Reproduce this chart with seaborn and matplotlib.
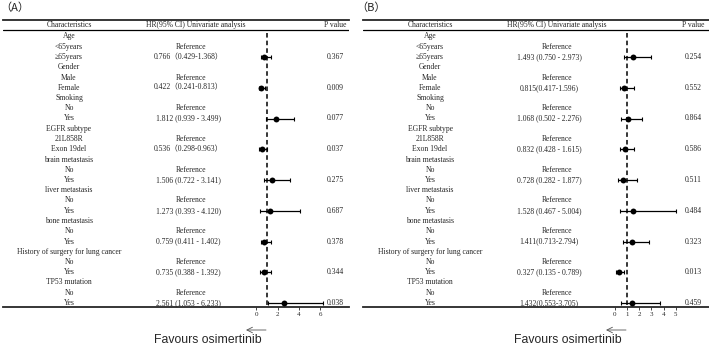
import numpy as np
import pandas as pd
import seaborn as sns
import matplotlib.pyplot as plt

sns.set_style("white")
plt.rcParams['font.family'] = ['Liberation Serif', 'Noto Sans CJK SC', 'DejaVu Sans']

# table content
groups = ["Age", "Gender", "Smoking", "EGFR subtype", "brain metastasis",
          "liver metastasis", "bone metastasis", "History of surgery for lung cancer",
          "TP53 mutation"]
ref_levels = ["<65years", "Male", "No", "21L858R", "No", "No", "No", "No", "No"]
cmp_levels = ["≥65years", "Female", "Yes", "Exon 19del", "Yes", "Yes", "Yes", "Yes", "Yes"]

# (A)
hr_a = [0.766, 0.422, 1.812, 0.536, 1.506, 1.273, 0.759, 0.735, 2.561]
lo_a = [0.429, 0.241, 0.939, 0.298, 0.722, 0.393, 0.411, 0.388, 1.053]
hi_a = [1.368, 0.813, 3.499, 0.963, 3.141, 4.120, 1.402, 1.392, 6.233]
p_a = ["0.367", "0.009", "0.077", "0.037", "0.275", "0.687", "0.378", "0.344", "0.038"]
txt_a = ["0.766（0.429-1.368）", "0.422（0.241-0.813）", "1.812 (0.939 - 3.499)",
         "0.536（0.298-0.963）", "1.506 (0.722 - 3.141)", "1.273 (0.393 - 4.120)",
         "0.759 (0.411 - 1.402)", "0.735 (0.388 - 1.392)", "2.561 (1.053 - 6.233)"]
ticks_a = [0, 2, 4, 6]

# (B)
hr_b = [1.493, 0.815, 1.068, 0.832, 0.728, 1.528, 1.411, 0.327, 1.432]
lo_b = [0.750, 0.417, 0.502, 0.428, 0.282, 0.467, 0.713, 0.135, 0.553]
hi_b = [2.973, 1.596, 2.276, 1.615, 1.877, 5.004, 2.794, 0.789, 3.705]
p_b = ["0.254", "0.552", "0.864", "0.586", "0.511", "0.484", "0.323", "0.013", "0.459"]
txt_b = ["1.493 (0.750 - 2.973)", "0.815(0.417-1.596)", "1.068 (0.502 - 2.276)",
         "0.832 (0.428 - 1.615)", "0.728 (0.282 - 1.877)", "1.528 (0.467 - 5.004)",
         "1.411(0.713-2.794)", "0.327 (0.135 - 0.789)", "1.432(0.553-3.705)"]
ticks_b = [0, 1, 2, 3, 4, 5]

W, H = 709, 345
fig = plt.figure(figsize=(W / 100, H / 100), dpi=100)

ROW0, DY = 36.5, 10.25
TOP, HEAD, BOT = 20, 30, 307
y_top = (TOP - ROW0) / DY
y_bot = (BOT - ROW0) / DY
y_head = (HEAD - ROW0) / DY
FS = 5.5


def px_axes(x0, x1):
    return fig.add_axes([x0 / W, 1 - BOT / H, (x1 - x0) / W, (BOT - TOP) / H])


def draw_panel(x0, x1, zero_px, unit_px, c_char, c_ref, c_val, c_head, c_p,
               hr, lo, hi, p, txt, ticks, label, label_x, arrow_px):
    # text table
    tax = px_axes(x0, x1)
    tax.set_xlim(x0, x1)
    tax.set_ylim(y_bot, y_top)
    tax.axis('off')
    yh = (y_top + y_head) / 2
    tax.text(c_char, yh, "Characteristics", ha='center', va='center', fontsize=FS)
    tax.text(c_head, yh, "HR(95% CI) Univariate analysis", ha='center', va='center', fontsize=FS)
    tax.text(c_p, yh, "P value", ha='center', va='center', fontsize=FS)
    for i in range(len(groups)):
        r = 3 * i
        tax.text(c_char, r, groups[i], ha='center', va='center', fontsize=FS)
        tax.text(c_char, r + 1, ref_levels[i], ha='center', va='center', fontsize=FS)
        tax.text(c_char, r + 2, cmp_levels[i], ha='center', va='center', fontsize=FS)
        tax.text(c_ref, r + 1, "Reference", ha='center', va='center', fontsize=FS)
        tax.text(c_val, r + 2, txt[i], ha='center', va='center', fontsize=FS)
        tax.text(c_p, r + 2, p[i], ha='center', va='center', fontsize=FS)

    # forest part, bottom spine doubles as the table's closing rule
    fax = px_axes(x0, x1)
    fax.patch.set_alpha(0)
    df = pd.DataFrame({'hr': hr, 'lo': lo, 'hi': hi,
                       'row': [3 * i + 2 for i in range(len(hr))]})
    fax.errorbar(df['hr'], df['row'], xerr=[df['hr'] - df['lo'], df['hi'] - df['hr']],
                 fmt='none', ecolor='black', elinewidth=0.9, capsize=1.5, capthick=0.8)
    sns.scatterplot(data=df, x='hr', y='row', ax=fax, color='black', s=18,
                    edgecolor='black', linewidth=0, legend=False, zorder=3)
    fax.vlines(1, y_head + 0.3, y_bot, colors='black', linestyles=(0, (3, 2)), lw=1.1)
    fax.axhline(y_head, color='black', lw=0.9)
    fax.set_xlim((x0 - zero_px) / unit_px, (x1 - zero_px) / unit_px)
    fax.set_ylim(y_bot, y_top)
    fax.set_xlabel('')
    fax.set_ylabel('')
    fax.set_yticks([])
    fax.set_xticks(ticks)
    fax.tick_params(axis='x', direction='out', length=2.5, width=0.6, labelsize=5,
                    pad=1, bottom=True)
    for s in ['left', 'right']:
        fax.spines[s].set_visible(False)
    fax.spines['top'].set_linewidth(1.3)
    fax.spines['bottom'].set_linewidth(1.3)

    # arrow and caption
    fax.annotate('', xy=((arrow_px[1] - zero_px) / unit_px, H - 330),
                 xytext=((arrow_px[0] - zero_px) / unit_px, H - 330),
                 xycoords=('data', 'figure pixels'), textcoords=('data', 'figure pixels'),
                 arrowprops=dict(arrowstyle='->', lw=0.6, color='#555555',
                                 shrinkA=0, shrinkB=0))
    fig.text((arrow_px[0] - 4) / W, 1 - 340 / H, "Favours osimertinib", ha='right',
             va='center', fontsize=8.8, family='Liberation Sans')
    fig.text(label_x / W, 1 - 8 / H, label, ha='left', va='center', fontsize=8,
             family=['Noto Sans CJK SC', 'DejaVu Sans'])


draw_panel(3, 349, 256.3, 10.67, 69, 191, 188, 196, 335,
           hr_a, lo_a, hi_a, p_a, txt_a, ticks_a, "（A）", 0.5, (266, 246))
draw_panel(363, 709, 614.5, 12.25, 430, 557, 549, 557, 693,
           hr_b, lo_b, hi_b, p_b, txt_b, ticks_b, "（B）", 356, (626, 606))

fig.savefig("out.png", dpi=100)
